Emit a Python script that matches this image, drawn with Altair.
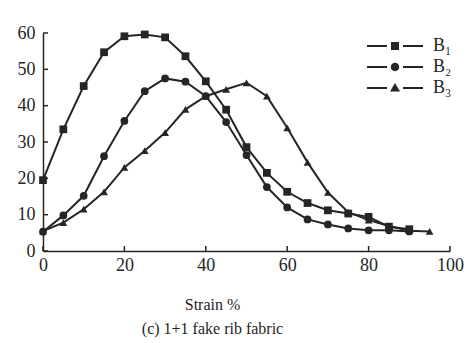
import altair as alt
import pandas as pd

strain = [0, 5, 10, 15, 20, 25, 30, 35, 40, 45, 50, 55, 60, 65, 70, 75, 80, 85, 90, 95]
b1 = [19.5, 33.5, 45.4, 54.7, 59.1, 59.6, 58.8, 53.6, 46.7, 38.9, 28.6, 21.5, 16.3, 13.2, 11.2, 10.3, 9.4, 6.7, 6.0, None]
b2 = [5.3, 9.8, 15.2, 26.1, 35.8, 44.0, 47.5, 46.6, 42.6, 35.5, 26.4, 17.6, 12.0, 8.7, 7.3, 6.2, 5.7, 5.7, 5.4, None]
b3 = [5.5, 7.8, 11.5, 16.3, 23.0, 27.6, 32.6, 39.0, 42.6, 44.5, 46.3, 42.6, 33.9, 24.4, 16.1, 10.7, 8.5, 6.9, 5.6, 5.4]
series_names = ["B\u2081", "B\u2082", "B\u2083"]
marker_shapes = ["square", "circle", "triangle-up"]
seg = "M-2.8,-0.1H-0.8V0.1H-2.8ZM0.8,-0.1H2.8V0.1H0.8Z"
legend_paths = [
    seg + "M-0.4,-0.4H0.4V0.4H-0.4Z",
    seg + "M-0.42,0A0.42,0.42 0 1,0 0.42,0A0.42,0.42 0 1,0 -0.42,0Z",
    seg + "M0,-0.5L0.5,0.36H-0.5Z",
]
x_ticks = [0, 20, 40, 60, 80, 100]
y_ticks = [0, 10, 20, 30, 40, 50, 60]

rows = []
for name, vals in zip(series_names, [b1, b2, b3]):
    for x, y in zip(strain, vals):
        if y is not None:
            rows.append({"strain": x, "value": y, "series": name})
df = pd.DataFrame(rows)
xt = pd.DataFrame({"strain": x_ticks})
yt = pd.DataFrame({"value": y_ticks})

ink = "#252525"
serif = "Liberation Serif"

xs = alt.Scale(domain=[0, 100], nice=False)
ys = alt.Scale(domain=[0, 60], nice=False)

x_axis = alt.Axis(
    values=x_ticks, tickCount=6, ticks=False, grid=False, labelPadding=5, labelFlush=False,
    labelOverlap=False,
    title="Strain %", titleX=169, titleY=53, titleBaseline="middle",
    titleFont=serif, titleFontSize=16, titleFontWeight="normal", titleColor=ink,
    labelFont=serif, labelFontSize=18, labelColor=ink,
    domainColor=ink, domainWidth=1.5)
y_axis = alt.Axis(
    values=y_ticks, tickCount=7, ticks=False, grid=False, labelPadding=8, labelFlush=False,
    labelOverlap=False,
    title=None, labelFont=serif, labelFontSize=18, labelColor=ink,
    domainColor=ink, domainWidth=1.5)

X = lambda: alt.X("strain:Q", scale=xs, axis=x_axis)
Y = lambda: alt.Y("value:Q", scale=ys, axis=y_axis)

lines = alt.Chart(df).mark_line(color=ink, strokeWidth=2).encode(
    x=X(), y=Y(), detail="series:N",
)

point_layers = []
for name, shp in zip(series_names, marker_shapes):
    point_layers.append(
        alt.Chart(df).transform_filter(alt.datum.series == name).mark_point(
            filled=True, color=ink, size=60, opacity=1, shape=shp
        ).encode(x=X(), y=Y())
    )

xtick_layer = alt.Chart(xt).mark_rule(color=ink, strokeWidth=1.5).encode(
    x=X(), y=alt.value(218), y2=alt.value(213)
)
ytick_layer = alt.Chart(yt).mark_rule(color=ink, strokeWidth=1.5).encode(
    y=Y(), x=alt.value(0), x2=alt.value(5)
)

legend_layer = alt.Chart(df).transform_filter("datum.value < 0").mark_point(
    filled=True, color=ink, size=400, opacity=1
).encode(
    x=X(), y=Y(),
    shape=alt.Shape("series:N", scale=alt.Scale(domain=series_names, range=legend_paths),
                    legend=alt.Legend(title=None, orient="none", legendX=342, legendY=3,
                                      symbolSize=400, symbolFillColor=ink, symbolStrokeColor=ink,
                                      symbolStrokeWidth=0, symbolOpacity=1,
                                      labelFont=serif, labelFontSize=18, labelColor=ink,
                                      labelOffset=28, rowPadding=2)),
)

chart = alt.layer(lines, *point_layers, xtick_layer, ytick_layer, legend_layer).properties(
    width=407, height=218,
    autosize=alt.AutoSizeParams(type="none"),
    padding={"left": 35, "top": 25, "right": 15, "bottom": 92},
    title=alt.TitleParams("(c) 1+1 fake rib fabric", orient="bottom", anchor="middle",
                          dx=-34, offset=9, font=serif, fontSize=16, fontWeight="normal", color=ink),
).configure_view(stroke=None)

chart.save("out.html", embed_options={"renderer": "svg", "actions": False})
